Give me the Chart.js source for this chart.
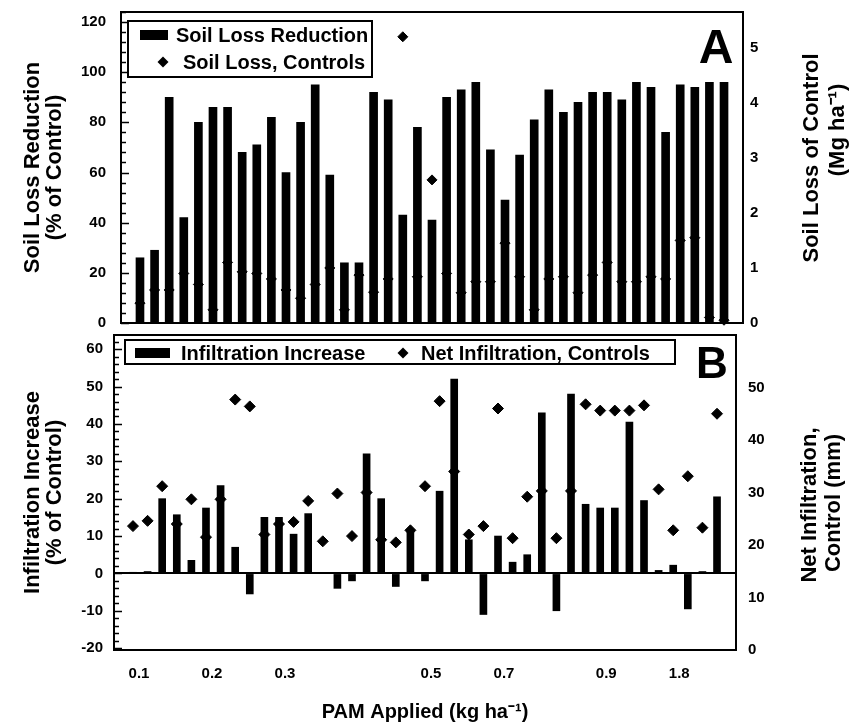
<!DOCTYPE html>
<html><head><meta charset="utf-8">
<script src="https://cdn.jsdelivr.net/npm/chart.js@4/dist/chart.umd.min.js"></script>
<style>
html,body{margin:0;padding:0;background:#fff;}
#wrap{position:relative;width:863px;height:728px;overflow:hidden;background:#fff;}
#ca{position:absolute;left:0;top:0;}
#cb{position:absolute;left:0;top:323px;}
</style></head><body>
<div id="wrap">
<canvas id="ca" width="863" height="340"></canvas>
<canvas id="cb" width="863" height="405"></canvas>
</div>
<script>
// ---------- data ----------
const categories = ['0.1','','','','','0.2','','','','','0.3','','','','','','','','','','0.5','','','','','0.7','','','','','','','0.9','','','','','1.8','','',''];
const soilLossReduction = [26,29,90,42,80,86,86,68,71,82,60,80,95,59,24,24,92,89,43,78,41,90,93,96,69,49,67,81,93,84,88,92,92,89,96,94,76,95,94,96,96];
const soilLossControls = [0.36,0.6,0.6,0.9,0.7,0.24,1.1,0.93,0.9,0.8,0.6,0.45,0.7,1.0,0.24,0.87,0.56,0.8,5.2,0.84,2.6,0.9,0.55,0.75,0.75,1.45,0.84,0.24,0.8,0.84,0.55,0.87,1.1,0.75,0.75,0.84,0.8,1.5,1.55,0.1,0.05];
const infiltrationIncrease = [0.3,0.5,20,15.7,3.5,17.5,23.5,7,-5.5,15,15,10.5,16,0,-4,-2,32,20,-3.5,11.5,-2,22,52,9,-11,10,3,5,43,-10,48,18.5,17.5,17.5,40.5,19.5,0.8,2.2,-9.5,0.5,20.5];
const netInfiltrationControls = [23.6,24.6,31.2,24,28.7,21.5,28.7,47.7,46.4,22,24,24.4,28.4,20.7,29.8,21.7,30,21,20.5,22.8,31.2,47.4,34,22,23.6,46,21.3,29.2,30.3,21.3,30.3,46.8,45.6,45.6,45.6,46.6,30.6,22.8,33.1,23.3,45];
const yTicksA = [0,20,40,60,80,100,120];
const y2TicksA = [0,1,2,3,4,5];
const yTicksB = [-20,-10,0,10,20,30,40,50,60];
const y2TicksB = [0,10,20,30,40,50];

// ---------- helpers ----------
const FAM = '"Liberation Sans", Arial, Helvetica, sans-serif';
Chart.defaults.font.family = FAM;
Chart.defaults.color = '#000';
const xy = arr => arr.map((v, i) => ({x: i, y: v}));
const setTicks = arr => (s) => { s.ticks = arr.map(v => ({value: v})); };
const noPad = (s) => { s.paddingTop = 0; s.paddingBottom = 0; s.paddingLeft = 0; s.paddingRight = 0; };

const framePlugin = {
  id: 'frameTicks',
  afterDraw(chart, args, o) {
    const {ctx, chartArea: a} = chart;
    const y = chart.scales.y;
    ctx.save();
    ctx.strokeStyle = '#000';
    ctx.lineWidth = o.lineWidth;
    ctx.strokeRect(a.left, a.top, a.right - a.left, a.bottom - a.top);
    ctx.lineWidth = 1.5;
    ctx.beginPath();
    for (let v = o.from; v <= o.to + 1e-9; v += o.minor) {
      const p = Math.round(y.getPixelForValue(v)) + 0.5;
      const major = Math.abs(v / o.major - Math.round(v / o.major)) < 1e-6;
      ctx.moveTo(a.left, p);
      ctx.lineTo(a.left + (major ? 8 : 5), p);
    }
    ctx.stroke();
    ctx.restore();
  }
};

const legendPlugin = {
  id: 'boxLegend',
  afterDraw(chart, args, o) {
    const ctx = chart.ctx;
    ctx.save();
    ctx.fillStyle = '#fff';
    ctx.fillRect(o.x, o.y, o.w, o.h);
    ctx.lineWidth = 2;
    ctx.strokeStyle = '#000';
    ctx.strokeRect(o.x, o.y, o.w, o.h);
    ctx.fillStyle = '#000';
    ctx.font = 'bold ' + o.size + 'px ' + FAM;
    ctx.textBaseline = 'middle';
    o.items.forEach(it => {
      const ds = chart.data.datasets[it.ds];
      if (ds.type === 'line') {
        const r = 5.5;
        ctx.beginPath();
        ctx.moveTo(it.mx - r, it.my); ctx.lineTo(it.mx, it.my - r);
        ctx.lineTo(it.mx + r, it.my); ctx.lineTo(it.mx, it.my + r);
        ctx.closePath(); ctx.fill();
      } else {
        ctx.fillRect(it.mx, it.my - 5, it.mw, 10);
      }
      ctx.fillText(ds.label, it.tx, it.my + 1);
    });
    ctx.restore();
  }
};

const textPlugin = {
  id: 'extraText',
  afterDraw(chart, args, o) {
    const ctx = chart.ctx;
    ctx.save();
    ctx.fillStyle = '#000';
    ctx.textAlign = 'center';
    ctx.textBaseline = 'middle';
    o.items.forEach(t => {
      ctx.save();
      ctx.translate(t.x, t.y);
      ctx.rotate(t.rot || 0);
      ctx.font = 'bold ' + t.size + 'px ' + FAM;
      ctx.fillText(t.text, 0, 0);
      ctx.restore();
    });
    ctx.restore();
  }
};

const xScale = (show) => ({
  type: 'linear', min: -1.3, max: 41.3, offset: false,
  display: show,
  grid: {display: false, drawTicks: false, offset: false},
  border: {display: false},
  afterBuildTicks: (s) => { s.ticks = categories.map((c, i) => c ? {value: i} : null).filter(Boolean); },
  ticks: {autoSkip: false, maxRotation: 0, minRotation: 0, padding: 15, labelOffset: 6,
          font: {size: 15, weight: 'bold'}, callback: (v) => categories[v]},
  title: {display: show, text: 'PAM Applied (kg ha⁻¹)', font: {size: 20, weight: 'bold'}, padding: {top: 0, bottom: 4}},
  afterFit: (s) => { noPad(s); if (show) s.height = 78; }
});

// ---------- Chart A ----------
new Chart(document.getElementById('ca'), {
  type: 'bar',
  data: {
    datasets: [
      {type: 'line', label: 'Soil Loss, Controls', data: xy(soilLossControls), yAxisID: 'y2',
       showLine: false, pointStyle: 'rectRot', pointRadius: 5, pointBackgroundColor: '#000',
       pointBorderColor: '#000', pointBorderWidth: 1, order: 0, clip: false},
      {type: 'bar', label: 'Soil Loss Reduction', data: xy(soilLossReduction), yAxisID: 'y',
       backgroundColor: '#000', barThickness: 8, order: 1}
    ]
  },
  options: {
    responsive: false, animation: false,
    layout: {padding: {top: 12, bottom: 17, left: 0, right: 0}},
    plugins: {
      legend: {display: false}, tooltip: {enabled: false},
      frameTicks: {lineWidth: 2, from: 0, to: 124, minor: 4, major: 20},
      boxLegend: {x: 128, y: 21, w: 244, h: 56, size: 20, items: [
        {ds: 1, mx: 140, my: 35, mw: 28, tx: 176},
        {ds: 0, mx: 163, my: 62, tx: 183}
      ]},
      extraText: {items: [
        {text: 'A', x: 716, y: 50, size: 48},
        {text: 'Soil Loss of Control', x: 812, y: 158, size: 22, rot: -Math.PI/2},
        {text: '(Mg ha⁻¹)', x: 838, y: 130, size: 22, rot: -Math.PI/2}
      ]}
    },
    scales: {
      x: xScale(false),
      y: {
        position: 'left', min: 0, max: 124,
        grid: {display: false, drawTicks: false}, border: {display: false},
        afterBuildTicks: setTicks(yTicksA),
        ticks: {padding: 15, font: {size: 15, weight: 'bold'}},
        title: {display: true, text: ['Soil Loss Reduction', '(% of Control)'],
                font: {size: 22, weight: 'bold', lineHeight: 1.0}, padding: {top: 22, bottom: 0}},
        afterFit: (s) => { noPad(s); s.width = 121; }
      },
      y2: {
        position: 'right', min: 0, max: 5.65,
        grid: {display: false, drawTicks: false}, border: {display: false},
        afterBuildTicks: setTicks(y2TicksA),
        ticks: {padding: 7, font: {size: 15, weight: 'bold'}},
        afterFit: (s) => { noPad(s); s.width = 120; }
      }
    }
  },
  plugins: [framePlugin, legendPlugin, textPlugin]
});

// ---------- Chart B ----------
new Chart(document.getElementById('cb'), {
  type: 'bar',
  data: {
    datasets: [
      {type: 'line', label: 'Net Infiltration, Controls', data: xy(netInfiltrationControls), yAxisID: 'y2',
       showLine: false, pointStyle: 'rectRot', pointRadius: 5.5, pointBackgroundColor: '#000',
       pointBorderColor: '#000', pointBorderWidth: 1, order: 0, clip: false},
      {type: 'bar', label: 'Infiltration Increase', data: xy(infiltrationIncrease), yAxisID: 'y',
       backgroundColor: '#000', barThickness: 7, order: 1}
    ]
  },
  options: {
    responsive: false, animation: false,
    layout: {padding: {top: 12, bottom: 0, left: 0, right: 0}},
    plugins: {
      legend: {display: false}, tooltip: {enabled: false},
      frameTicks: {lineWidth: 2, from: -20, to: 62, minor: 2, major: 10},
      boxLegend: {x: 125, y: 17, w: 550, h: 24, size: 20, items: [
        {ds: 1, mx: 135, my: 30, mw: 35, tx: 181},
        {ds: 0, mx: 403, my: 30, tx: 421}
      ]},
      extraText: {items: [
        {text: 'B', x: 712, y: 43, size: 44},
        {text: 'Net Infiltration,', x: 810, y: 182, size: 22, rot: -Math.PI/2},
        {text: 'Control (mm)', x: 834, y: 180, size: 22, rot: -Math.PI/2}
      ]}
    },
    scales: {
      x: xScale(true),
      y: {
        position: 'left', min: -20.5, max: 63.8,
        grid: {display: true, drawTicks: false, lineWidth: 2,
               color: (c) => (c.tick && c.tick.value === 0) ? '#000' : 'rgba(0,0,0,0)'},
        border: {display: false},
        afterBuildTicks: setTicks(yTicksB),
        ticks: {padding: 11, font: {size: 15, weight: 'bold'}},
        title: {display: true, text: ['Infiltration Increase', '(% of Control)'],
                font: {size: 22, weight: 'bold', lineHeight: 1.0}, padding: {top: 22, bottom: 0}},
        afterFit: (s) => { noPad(s); s.width = 114; }
      },
      y2: {
        position: 'right', min: 0, max: 60,
        grid: {display: false, drawTicks: false}, border: {display: false},
        afterBuildTicks: setTicks(y2TicksB),
        ticks: {padding: 12, font: {size: 15, weight: 'bold'}},
        afterFit: (s) => { noPad(s); s.width = 127; }
      }
    }
  },
  plugins: [framePlugin, legendPlugin, textPlugin]
});
</script>
</body></html>
